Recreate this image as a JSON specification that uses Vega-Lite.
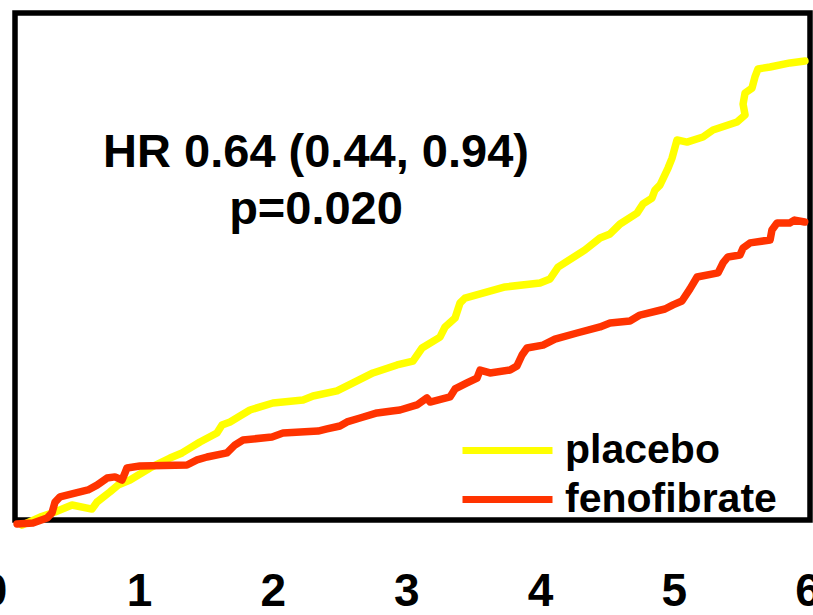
{
  "$schema": "https://vega.github.io/schema/vega-lite/v6.json",
  "width": 795,
  "height": 507,
  "autosize": {"type": "none"},
  "padding": {"left": 15, "top": 13, "right": 3, "bottom": 95},
  "background": "white",
  "config": {"view": {"stroke": "black", "strokeWidth": 5.5}, "font": "Liberation Sans"},
  "layer": [
    {
      "data": {"values": [
        {"group": "placebo", "i": 1, "year": 0.125, "incidence": -0.026},
        {"group": "placebo", "i": 2, "year": 0.26, "incidence": 0.015},
        {"group": "placebo", "i": 3, "year": 0.372, "incidence": 0.041},
        {"group": "placebo", "i": 4, "year": 0.499, "incidence": 0.077},
        {"group": "placebo", "i": 5, "year": 0.648, "incidence": 0.056},
        {"group": "placebo", "i": 6, "year": 0.686, "incidence": 0.092},
        {"group": "placebo", "i": 7, "year": 0.783, "incidence": 0.144},
        {"group": "placebo", "i": 8, "year": 0.843, "incidence": 0.179},
        {"group": "placebo", "i": 9, "year": 0.933, "incidence": 0.205},
        {"group": "placebo", "i": 10, "year": 1.082, "incidence": 0.267},
        {"group": "placebo", "i": 11, "year": 1.232, "incidence": 0.318},
        {"group": "placebo", "i": 12, "year": 1.322, "incidence": 0.344},
        {"group": "placebo", "i": 13, "year": 1.456, "incidence": 0.4},
        {"group": "placebo", "i": 14, "year": 1.583, "incidence": 0.446},
        {"group": "placebo", "i": 15, "year": 1.621, "incidence": 0.487},
        {"group": "placebo", "i": 16, "year": 1.681, "incidence": 0.503},
        {"group": "placebo", "i": 17, "year": 1.755, "incidence": 0.533},
        {"group": "placebo", "i": 18, "year": 1.83, "incidence": 0.564},
        {"group": "placebo", "i": 19, "year": 2.002, "incidence": 0.6},
        {"group": "placebo", "i": 20, "year": 2.227, "incidence": 0.615},
        {"group": "placebo", "i": 21, "year": 2.302, "incidence": 0.636},
        {"group": "placebo", "i": 22, "year": 2.481, "incidence": 0.662},
        {"group": "placebo", "i": 23, "year": 2.601, "incidence": 0.703},
        {"group": "placebo", "i": 24, "year": 2.75, "incidence": 0.754},
        {"group": "placebo", "i": 25, "year": 2.93, "incidence": 0.795},
        {"group": "placebo", "i": 26, "year": 3.049, "incidence": 0.815},
        {"group": "placebo", "i": 27, "year": 3.117, "incidence": 0.882},
        {"group": "placebo", "i": 28, "year": 3.251, "incidence": 0.938},
        {"group": "placebo", "i": 29, "year": 3.289, "incidence": 0.99},
        {"group": "placebo", "i": 30, "year": 3.364, "incidence": 1.036},
        {"group": "placebo", "i": 31, "year": 3.401, "incidence": 1.113},
        {"group": "placebo", "i": 32, "year": 3.438, "incidence": 1.138},
        {"group": "placebo", "i": 33, "year": 3.738, "incidence": 1.195},
        {"group": "placebo", "i": 34, "year": 3.999, "incidence": 1.215},
        {"group": "placebo", "i": 35, "year": 4.074, "incidence": 1.236},
        {"group": "placebo", "i": 36, "year": 4.134, "incidence": 1.297},
        {"group": "placebo", "i": 37, "year": 4.336, "incidence": 1.385},
        {"group": "placebo", "i": 38, "year": 4.448, "incidence": 1.446},
        {"group": "placebo", "i": 39, "year": 4.523, "incidence": 1.467},
        {"group": "placebo", "i": 40, "year": 4.598, "incidence": 1.518},
        {"group": "placebo", "i": 41, "year": 4.725, "incidence": 1.574},
        {"group": "placebo", "i": 42, "year": 4.77, "incidence": 1.621},
        {"group": "placebo", "i": 43, "year": 4.837, "incidence": 1.651},
        {"group": "placebo", "i": 44, "year": 4.859, "incidence": 1.692},
        {"group": "placebo", "i": 45, "year": 4.897, "incidence": 1.718},
        {"group": "placebo", "i": 46, "year": 4.957, "incidence": 1.805},
        {"group": "placebo", "i": 47, "year": 4.987, "incidence": 1.856},
        {"group": "placebo", "i": 48, "year": 5.024, "incidence": 1.949},
        {"group": "placebo", "i": 49, "year": 5.099, "incidence": 1.938},
        {"group": "placebo", "i": 50, "year": 5.218, "incidence": 1.964},
        {"group": "placebo", "i": 51, "year": 5.293, "incidence": 2.0},
        {"group": "placebo", "i": 52, "year": 5.473, "incidence": 2.041},
        {"group": "placebo", "i": 53, "year": 5.533, "incidence": 2.077},
        {"group": "placebo", "i": 54, "year": 5.518, "incidence": 2.133},
        {"group": "placebo", "i": 55, "year": 5.533, "incidence": 2.19},
        {"group": "placebo", "i": 56, "year": 5.585, "incidence": 2.215},
        {"group": "placebo", "i": 57, "year": 5.607, "incidence": 2.272},
        {"group": "placebo", "i": 58, "year": 5.63, "incidence": 2.313},
        {"group": "placebo", "i": 59, "year": 5.72, "incidence": 2.323},
        {"group": "placebo", "i": 60, "year": 5.869, "incidence": 2.344},
        {"group": "placebo", "i": 61, "year": 5.981, "incidence": 2.354},
        {"group": "fenofibrate", "i": 1, "year": 0.088, "incidence": -0.021},
        {"group": "fenofibrate", "i": 2, "year": 0.207, "incidence": -0.015},
        {"group": "fenofibrate", "i": 3, "year": 0.312, "incidence": 0.01},
        {"group": "fenofibrate", "i": 4, "year": 0.349, "incidence": 0.036},
        {"group": "fenofibrate", "i": 5, "year": 0.372, "incidence": 0.092},
        {"group": "fenofibrate", "i": 6, "year": 0.409, "incidence": 0.118},
        {"group": "fenofibrate", "i": 7, "year": 0.521, "incidence": 0.138},
        {"group": "fenofibrate", "i": 8, "year": 0.619, "incidence": 0.154},
        {"group": "fenofibrate", "i": 9, "year": 0.686, "incidence": 0.179},
        {"group": "fenofibrate", "i": 10, "year": 0.761, "incidence": 0.215},
        {"group": "fenofibrate", "i": 11, "year": 0.82, "incidence": 0.221},
        {"group": "fenofibrate", "i": 12, "year": 0.873, "incidence": 0.205},
        {"group": "fenofibrate", "i": 13, "year": 0.895, "incidence": 0.241},
        {"group": "fenofibrate", "i": 14, "year": 0.91, "incidence": 0.267},
        {"group": "fenofibrate", "i": 15, "year": 1.007, "incidence": 0.277},
        {"group": "fenofibrate", "i": 16, "year": 1.359, "incidence": 0.282},
        {"group": "fenofibrate", "i": 17, "year": 1.434, "incidence": 0.308},
        {"group": "fenofibrate", "i": 18, "year": 1.509, "incidence": 0.323},
        {"group": "fenofibrate", "i": 19, "year": 1.658, "incidence": 0.344},
        {"group": "fenofibrate", "i": 20, "year": 1.718, "incidence": 0.385},
        {"group": "fenofibrate", "i": 21, "year": 1.778, "incidence": 0.41},
        {"group": "fenofibrate", "i": 22, "year": 1.995, "incidence": 0.426},
        {"group": "fenofibrate", "i": 23, "year": 2.077, "incidence": 0.446},
        {"group": "fenofibrate", "i": 24, "year": 2.339, "incidence": 0.456},
        {"group": "fenofibrate", "i": 25, "year": 2.406, "incidence": 0.467},
        {"group": "fenofibrate", "i": 26, "year": 2.503, "incidence": 0.482},
        {"group": "fenofibrate", "i": 27, "year": 2.556, "incidence": 0.503},
        {"group": "fenofibrate", "i": 28, "year": 2.653, "incidence": 0.523},
        {"group": "fenofibrate", "i": 29, "year": 2.78, "incidence": 0.549},
        {"group": "fenofibrate", "i": 30, "year": 2.892, "incidence": 0.559},
        {"group": "fenofibrate", "i": 31, "year": 2.952, "incidence": 0.564},
        {"group": "fenofibrate", "i": 32, "year": 3.079, "incidence": 0.59},
        {"group": "fenofibrate", "i": 33, "year": 3.154, "incidence": 0.626},
        {"group": "fenofibrate", "i": 34, "year": 3.177, "incidence": 0.605},
        {"group": "fenofibrate", "i": 35, "year": 3.326, "incidence": 0.631},
        {"group": "fenofibrate", "i": 36, "year": 3.364, "incidence": 0.672},
        {"group": "fenofibrate", "i": 37, "year": 3.453, "incidence": 0.703},
        {"group": "fenofibrate", "i": 38, "year": 3.528, "incidence": 0.728},
        {"group": "fenofibrate", "i": 39, "year": 3.551, "incidence": 0.769},
        {"group": "fenofibrate", "i": 40, "year": 3.625, "incidence": 0.754},
        {"group": "fenofibrate", "i": 41, "year": 3.775, "incidence": 0.769},
        {"group": "fenofibrate", "i": 42, "year": 3.827, "incidence": 0.79},
        {"group": "fenofibrate", "i": 43, "year": 3.865, "incidence": 0.846},
        {"group": "fenofibrate", "i": 44, "year": 3.902, "incidence": 0.882},
        {"group": "fenofibrate", "i": 45, "year": 4.022, "incidence": 0.897},
        {"group": "fenofibrate", "i": 46, "year": 4.111, "incidence": 0.928},
        {"group": "fenofibrate", "i": 47, "year": 4.276, "incidence": 0.959},
        {"group": "fenofibrate", "i": 48, "year": 4.448, "incidence": 0.99},
        {"group": "fenofibrate", "i": 49, "year": 4.523, "incidence": 1.01},
        {"group": "fenofibrate", "i": 50, "year": 4.672, "incidence": 1.021},
        {"group": "fenofibrate", "i": 51, "year": 4.747, "incidence": 1.051},
        {"group": "fenofibrate", "i": 52, "year": 4.934, "incidence": 1.082},
        {"group": "fenofibrate", "i": 53, "year": 4.994, "incidence": 1.103},
        {"group": "fenofibrate", "i": 54, "year": 5.061, "incidence": 1.123},
        {"group": "fenofibrate", "i": 55, "year": 5.121, "incidence": 1.185},
        {"group": "fenofibrate", "i": 56, "year": 5.174, "incidence": 1.246},
        {"group": "fenofibrate", "i": 57, "year": 5.331, "incidence": 1.267},
        {"group": "fenofibrate", "i": 58, "year": 5.368, "incidence": 1.318},
        {"group": "fenofibrate", "i": 59, "year": 5.405, "incidence": 1.349},
        {"group": "fenofibrate", "i": 60, "year": 5.495, "incidence": 1.359},
        {"group": "fenofibrate", "i": 61, "year": 5.518, "incidence": 1.395},
        {"group": "fenofibrate", "i": 62, "year": 5.57, "incidence": 1.421},
        {"group": "fenofibrate", "i": 63, "year": 5.72, "incidence": 1.436},
        {"group": "fenofibrate", "i": 64, "year": 5.734, "incidence": 1.487},
        {"group": "fenofibrate", "i": 65, "year": 5.772, "incidence": 1.523},
        {"group": "fenofibrate", "i": 66, "year": 5.867, "incidence": 1.523},
        {"group": "fenofibrate", "i": 67, "year": 5.904, "incidence": 1.538},
        {"group": "fenofibrate", "i": 68, "year": 5.979, "incidence": 1.528}
      ]},
      "mark": {"type": "line", "strokeWidth": 7.5, "strokeJoin": "round", "strokeCap": "round"},
      "encoding": {
        "x": {
          "field": "year", "type": "quantitative",
          "scale": {"domain": [0, 6.1], "range": [-9.7, 805.87], "nice": false, "zero": false},
          "axis": {"values": [0, 1, 2, 3, 4, 5, 6], "title": null, "domain": false, "ticks": false, "tickSize": 0, "grid": false,
                   "labelFontSize": 46, "labelFontWeight": "bold", "labelFont": "Liberation Sans", "labelColor": "black",
                   "labelPadding": 49, "labelFlush": 5, "labelFlushOffset": 24, "format": "d"}
        },
        "y": {"field": "incidence", "type": "quantitative", "scale": {"domain": [0, 2.6], "nice": false, "zero": false}, "axis": null},
        "color": {
          "field": "group", "type": "nominal",
          "scale": {"domain": ["placebo", "fenofibrate"], "range": ["#FFFF00", "#FF3300"]},
          "legend": {"title": null, "orient": "none", "legendX": 472, "legendY": 417, "symbolType": "M-3,0H3", "symbolSize": 900,
                     "symbolStrokeWidth": 7, "labelFontSize": 41, "labelFontWeight": "bold", "labelFont": "Liberation Sans",
                     "labelColor": "black", "labelOffset": 37, "rowPadding": 7, "padding": 0, "labelLimit": 400}
        },
        "order": {"field": "i", "type": "quantitative"}
      }
    },
    {
      "data": {"values": [{}]},
      "mark": {"type": "text", "text": ["HR 0.64 (0.44, 0.94)", "p=0.020"], "fontSize": 47, "fontWeight": "bold", "font": "Liberation Sans",
               "align": "center", "baseline": "alphabetic", "lineHeight": 57, "color": "black"},
      "encoding": {"x": {"datum": 2.324, "type": "quantitative"}, "y": {"datum": 1.81, "type": "quantitative"}}
    }
  ]
}
